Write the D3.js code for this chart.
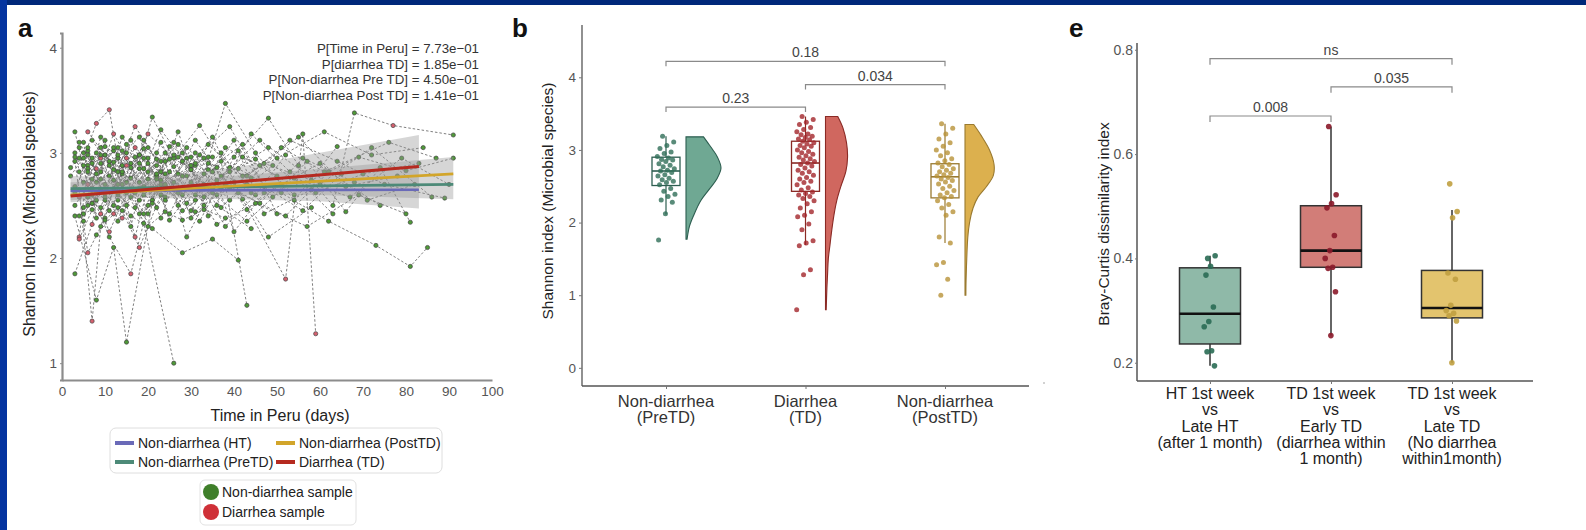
<!DOCTYPE html>
<html>
<head>
<meta charset="utf-8">
<script src="https://cdn.jsdelivr.net/npm/d3@7"></script>
<style>
body { margin: 0; background: #fff; }
svg { display: block; font-family: "Liberation Sans", Arial, sans-serif; }
</style>
</head>
<body>
<div id="chart"></div>
<script>
// ---------- Panel a data: per-subject trajectories [day, shannon, diarrhea?] ----------
var trajectories = [
  [[2,2.78],[6,3.02],[11,2.45],[17,2.96],[24,2.58],[31,3.12],[39,2.66],[47,2.9],[58,2.74],[69,2.96],[80,2.83],[91,2.95]],
  [[3,3.2],[7,2.52,1],[12,2.91],[18,3.15],[25,2.36],[33,2.8],[38,3.47],[45,3.0],[54,2.55],[64,3.06]],
  [[4,2.65],[7,1.4,1],[9,2.3],[14,2.88],[19,2.33],[26,1.0]],
  [[3,2.4],[8,1.6],[12,2.1],[15,1.2],[22,2.75],[29,2.95],[36,2.5],[44,2.28]],
  [[5,2.95],[8,3.28,1],[11,3.41,1],[14,2.7],[20,3.05],[27,2.62],[34,2.84],[42,3.08],[50,2.42]],
  [[4,2.2,1],[6,2.88],[10,3.12],[13,2.55],[18,2.98],[23,2.7],[30,2.45],[37,2.92],[43,1.55]],
  [[3,1.85],[7,2.32,1],[10,2.98],[16,2.64],[21,3.34],[28,2.78],[35,3.15],[42,2.56],[52,1.8,1],[56,3.18],[59,1.28,1]],
  [[6,2.58],[9,3.05],[13,2.82],[17,2.2,1],[22,3.0],[26,2.87],[32,2.35],[40,2.96],[48,3.33],[55,2.88],[63,2.5],[68,3.38],[77,3.26,1],[91,3.17]],
  [[4,3.05],[8,2.72],[12,3.18,1],[16,2.9],[20,2.42],[25,3.06],[33,2.68],[41,3.02],[49,2.58],[57,2.92],[66,2.44],[74,2.86],[81,2.34]],
  [[5,2.48],[9,2.82],[14,3.02],[19,2.6],[24,2.92],[29,2.2],[36,2.74],[46,3.12],[60,2.7],[72,3.05],[86,2.58]],
  [[3,2.92],[6,2.05,1],[10,2.38],[15,3.08],[21,2.55],[27,3.2],[34,2.4],[41,2.85],[51,2.62],[62,2.35],[73,2.12],[81,1.92],[85,2.1]],
  [[7,3.12],[11,2.88],[16,2.3],[20,2.95],[26,2.65],[31,3.0],[37,2.48],[44,2.76],[53,3.12],[64,2.92],[75,2.7],[89,2.57]],
  [[4,2.58,1],[9,2.48],[13,2.95],[18,2.72],[23,3.22],[30,2.84],[38,2.3],[45,2.6],[52,2.98]],
  [[6,2.85],[10,2.62,1],[14,3.15],[19,2.85],[25,2.42],[32,2.98],[39,3.25],[47,2.68],[56,2.45],[65,2.8]],
  [[5,3.1],[8,2.38],[12,2.66],[17,3.05,1],[22,2.48],[28,2.92],[35,2.62],[43,2.35],[54,2.76],[67,2.58],[79,2.95],[90,2.7]],
  [[3,2.68],[7,2.95],[11,2.78],[15,2.5],[20,2.82],[26,3.1],[33,2.5],[40,2.72],[48,2.2],[58,2.48]],
  [[8,2.22],[12,2.42,1],[16,2.58],[21,2.28],[28,2.05],[35,2.18],[41,1.98]],
  [[4,2.82],[8,3.0],[13,2.35],[19,3.12],[24,2.8],[31,2.55],[38,3.05],[46,2.88],[55,3.15],[66,2.68],[78,2.78]],
  [[6,3.2,1],[10,2.98],[15,2.72],[20,3.18,1],[26,2.95],[32,3.26],[39,2.82],[48,3.05]],
  [[5,2.42],[9,2.65],[14,2.45],[18,2.1,1],[23,2.6],[29,2.78],[36,2.32],[45,2.52],[57,2.3],[69,2.6],[80,2.42]],
  [[3,2.5],[7,2.75],[12,3.02],[17,2.62],[22,2.88],[27,2.5],[34,3.08],[42,2.78],[50,2.95],[61,3.2],[72,2.98],[84,3.05]],
  [[9,2.9],[13,2.6],[18,2.42],[24,2.7],[30,2.96],[37,2.66],[44,3.18],[53,2.82],[63,2.42]],
  [[4,2.95],[7,2.6],[11,2.2],[16,1.85,1],[20,2.5],[25,2.82],[31,2.6]],
  [[6,2.7,1],[9,3.15],[14,2.8],[18,2.55],[23,3.1],[29,2.66],[36,2.86],[43,2.46],[51,2.7],[60,2.9],[71,2.55],[82,2.7]],
  [[5,2.35],[8,2.85,1],[13,3.05],[19,2.68],[25,2.94],[30,2.38],[38,2.7],[46,2.52],[56,2.95],[68,2.72]],
  [[3,3.0],[6,2.5],[10,2.7],[15,2.95,1],[20,2.75],[24,2.55],[30,2.72],[37,3.0],[44,2.62]],
  [[7,2.52],[12,2.74],[17,3.25,1],[22,2.94],[28,2.45],[35,2.66],[42,2.96],[50,2.78]],
  [[4,2.18,1],[8,2.55],[11,2.92],[17,2.48],[23,2.82],[28,2.6],[34,2.96],[40,2.25],[47,2.62]],
  [[6,3.05],[10,2.55],[14,2.38,1],[19,2.95],[24,2.65],[31,2.88],[39,2.55],[49,2.88],[59,2.62],[70,2.8],[83,2.9]],
  [[5,2.72],[9,2.95,1],[13,2.62],[18,2.85],[23,2.38],[29,3.05],[35,2.82],[43,2.7]],
  [[8,2.8],[12,3.05],[16,2.76],[21,2.52],[27,2.96],[33,2.7],[40,3.12],[47,2.42],[58,2.65]],
  [[3,2.62],[6,2.98],[10,2.58],[14,2.82],[19,2.42],[24,3.0],[30,2.84],[36,2.6]],
  [[4,3.1],[9,2.75],[15,2.88,1],[21,2.66],[27,2.8],[33,2.95],[41,2.62],[52,2.4],[62,2.82],[74,2.5]],
  [[7,2.66],[11,2.25,1],[15,2.62],[20,2.9],[26,2.72],[31,2.44],[37,2.78],[45,2.94],[54,2.6]],
  [[5,2.88],[8,2.62],[12,2.5],[16,3.12],[22,2.78],[28,3.0],[33,2.58],[39,2.86]],
  [[9,2.42,1],[13,2.7],[18,2.98],[23,2.74],[29,2.52],[34,2.9],[43,2.78],[51,3.05],[61,2.82],[76,3.1],[87,2.95]],
  [[2,2.86],[5,3.0],[7,2.9],[10,3.06],[13,2.98],[16,2.86],[19,3.04],[23,2.92],[27,3.08],[31,2.9]],
  [[3,2.96],[6,2.82],[9,2.98],[12,2.84],[15,3.0],[18,2.9],[22,2.8],[26,2.98],[30,2.88],[35,2.96]],
  [[4,2.4],[7,2.46],[10,2.36],[13,2.48],[16,2.4],[20,2.3],[24,2.44],[28,2.36],[33,2.46],[38,2.38]]
];

var xTicksA = [0, 10, 20, 30, 40, 50, 60, 70, 80, 90, 100];
var yTicksA = [1, 2, 3, 4];

// regression lines
var trendNames = ["Non-diarrhea (HT)", "Non-diarrhea (PreTD)", "Non-diarrhea (PostTD)", "Diarrhea (TD)"];
var trendColors = ["#6a6ab8", "#4d8a78", "#d2a52a", "#b52a20"];
var trendStartDay = [2, 2, 2, 2];
var trendEndDay = [83, 91, 91, 83];
var trendStartVal = [2.64, 2.66, 2.60, 2.59];
var trendEndVal = [2.65, 2.70, 2.80, 2.87];

// confidence ribbons
var bandDaysA = [2, 20, 40, 60, 83];
var bandHiA = [2.78, 2.76, 2.86, 3.0, 3.17];
var bandLoA = [2.53, 2.57, 2.56, 2.54, 2.47];
var bandDaysB = [2, 20, 40, 60, 91];
var bandHiB = [2.72, 2.72, 2.78, 2.85, 2.96];
var bandLoB = [2.55, 2.60, 2.60, 2.60, 2.56];

var pLines = ["P[Time in Peru] = 7.73e\u221201", "P[diarrhea TD] = 1.85e\u221201",
              "P[Non-diarrhea Pre TD] = 4.50e\u221201", "P[Non-diarrhea Post TD] = 1.41e\u221201"];

// ---------- Panel b data ----------
var catLabelsB = [["Non-diarrhea", "(PreTD)"], ["Diarrhea", "(TD)"], ["Non-diarrhea", "(PostTD)"]];
var ptsB = [
  [3.19,3.11,3.06,3.02,2.97,2.95,2.91,2.89,2.87,2.86,2.84,2.81,2.79,2.77,2.74,2.72,2.71,2.69,2.66,2.64,2.61,2.59,2.57,2.55,2.52,2.47,2.43,2.39,2.36,2.31,2.28,2.12,1.76],
  [3.46,3.42,3.38,3.35,3.31,3.28,3.25,3.22,3.21,3.19,3.17,3.15,3.14,3.12,3.1,3.08,3.06,3.05,3.03,3.0,2.98,2.96,2.94,2.92,2.9,2.88,2.86,2.84,2.82,2.8,2.78,2.75,2.72,2.7,2.68,2.65,2.62,2.6,2.57,2.55,2.52,2.48,2.45,2.42,2.4,2.38,2.36,2.33,2.3,2.26,2.2,2.15,2.1,2.08,1.98,1.9,1.75,1.72,1.68,1.35,1.28,0.8],
  [3.36,3.3,3.22,3.15,3.1,3.05,3.0,2.96,2.92,2.88,2.85,2.82,2.8,2.77,2.74,2.72,2.7,2.68,2.66,2.64,2.62,2.6,2.58,2.56,2.53,2.5,2.47,2.44,2.41,2.38,2.36,2.34,2.3,2.25,2.2,2.15,2.1,1.8,1.72,1.45,1.42,1.22,1.0]
];
var boxQ1B = [2.51, 2.43, 2.34];
var boxMedB = [2.71, 2.82, 2.63];
var boxQ3B = [2.90, 3.12, 2.81];
var whiskLoB = [2.11, 1.69, 1.72];
var whiskHiB = [3.19, 3.46, 3.36];
var violinValsB = [
  [3.18,3.1,3.0,2.9,2.75,2.6,2.45,2.3,2.1,1.95,1.77],
  [3.46,3.3,3.1,2.9,2.7,2.5,2.3,2.1,1.9,1.7,1.5,1.3,1.1,0.8],
  [3.35,3.2,3.0,2.8,2.65,2.5,2.35,2.2,2.0,1.8,1.5,1.2,1.0]
];
var violinDensB = [
  [0.5,0.62,0.77,0.9,1.0,0.88,0.65,0.42,0.22,0.1,0.03],
  [0.35,0.5,0.6,0.63,0.58,0.44,0.32,0.24,0.18,0.13,0.08,0.06,0.04,0.02],
  [0.25,0.46,0.7,0.83,0.81,0.62,0.37,0.23,0.13,0.08,0.05,0.03,0.025]
];
var yTicksB = [0, 1, 2, 3, 4];
var bracketPairsB = [[0, 2], [1, 2], [0, 1]];
var bracketYB = [4.22, 3.90, 3.59];
var bracketLabelsB = ["0.18", "0.034", "0.23"];

// ---------- Panel e data ----------
var catLabelsE = [["HT 1st week", "vs", "Late HT", "(after 1 month)"],
                  ["TD 1st week", "vs", "Early TD", "(diarrhea within", "1 month)"],
                  ["TD 1st week", "vs", "Late TD", "(No diarrhea", "within1month)"]];
var ptsE = [
  [0.40, 0.405, 0.385, 0.368, 0.307, 0.279, 0.269, 0.223, 0.221, 0.194],
  [0.653, 0.522, 0.505, 0.497, 0.444, 0.415, 0.40, 0.383, 0.381, 0.336, 0.252],
  [0.543, 0.49, 0.478, 0.372, 0.36, 0.31, 0.30, 0.295, 0.29, 0.28, 0.2]
];
var boxQ1E = [0.236, 0.383, 0.286];
var boxMedE = [0.294, 0.415, 0.305];
var boxQ3E = [0.382, 0.501, 0.377];
var whiskLoE = [0.194, 0.252, 0.2];
var whiskHiE = [0.405, 0.653, 0.493];
var yTicksE = [0.2, 0.4, 0.6, 0.8];
var bracketPairsE = [[0, 2], [1, 2], [0, 1]];
var bracketYE = [0.783, 0.729, 0.673];
var bracketLabelsE = ["ns", "0.035", "0.008"];

// ---------- Setup ----------
var W = 1586, H = 530;
var svg = d3.select("#chart").append("svg").attr("width", W).attr("height", H);
svg.append("rect").attr("width", W).attr("height", H).attr("fill", "#fff");
svg.append("rect").attr("width", W).attr("height", 5).attr("fill", "#00287a");
svg.append("rect").attr("width", 7).attr("height", H).attr("fill", "#0434a0");

function jit(i, w) { return ((i * 0.618034 + 0.31) % 1 - 0.5) * 2 * w; }

function styleAxis(g, col, sw, fs, tc) {
  g.attr("font-family", null).attr("font-size", null);
  g.select(".domain").attr("stroke", col).attr("stroke-width", sw);
  g.selectAll(".tick line").attr("stroke", col);
  g.selectAll(".tick text").attr("fill", tc).attr("font-size", fs);
}

function panelLetter(x, y, t) {
  svg.append("text").attr("x", x).attr("y", y).attr("font-size", 26)
    .attr("font-weight", "bold").attr("fill", "#111").text(t);
}

// ---------- Panel a ----------
var xA = d3.scaleLinear().domain([0, 100]).range([62, 492]);
var yA = d3.scaleLinear().domain([0.84, 4.14]).range([380, 33]);
var gA = svg.append("g");

var trajLine = d3.line().x(function(d) { return xA(d[0]); }).y(function(d) { return yA(d[1]); });
gA.selectAll(".traj").data(trajectories).enter().append("path")
  .attr("d", trajLine).attr("fill", "none")
  .attr("stroke", "#707070").attr("stroke-width", 0.9).attr("stroke-dasharray", "2.5,2");

var allPts = [].concat.apply([], trajectories);
gA.selectAll(".pt").data(allPts).enter().append("circle")
  .attr("cx", function(d) { return xA(d[0]); })
  .attr("cy", function(d) { return yA(d[1]); })
  .attr("r", 2.1)
  .attr("fill", function(d) { return d[2] ? "#d4606e" : "#4f9a38"; })
  .attr("stroke", "#444").attr("stroke-width", 0.7);

function band(days, lo, hi) {
  return d3.area()
    .x(function(d, i) { return xA(days[i]); })
    .y0(function(d, i) { return yA(lo[i]); })
    .y1(function(d, i) { return yA(hi[i]); })(days);
}
gA.append("path").attr("d", band(bandDaysA, bandLoA, bandHiA)).attr("fill", "#999").attr("opacity", 0.4);
gA.append("path").attr("d", band(bandDaysB, bandLoB, bandHiB)).attr("fill", "#999").attr("opacity", 0.4);

trendNames.forEach(function(n, i) {
  gA.append("line")
    .attr("x1", xA(trendStartDay[i])).attr("x2", xA(trendEndDay[i]))
    .attr("y1", yA(trendStartVal[i])).attr("y2", yA(trendEndVal[i]))
    .attr("stroke", trendColors[i]).attr("stroke-width", i === 3 ? 3 : 2.6);
});

var axXA = gA.append("g").attr("transform", "translate(0,380)")
  .call(d3.axisBottom(xA).tickValues(xTicksA).tickSize(0).tickPadding(6));
styleAxis(axXA, "#8c8c8c", 2.2, 13.5, "#555");
var axYA = gA.append("g").attr("transform", "translate(62,0)")
  .call(d3.axisLeft(yA).tickValues(yTicksA).tickFormat(d3.format("d")).tickSizeOuter(0).tickSize(2).tickPadding(3));
styleAxis(axYA, "#8c8c8c", 2.2, 13.5, "#555");

gA.append("text").attr("transform", "translate(35,214) rotate(-90)")
  .attr("text-anchor", "middle").attr("font-size", 16).attr("fill", "#222")
  .text("Shannon Index (Microbial species)");
gA.append("text").attr("x", 280).attr("y", 421).attr("text-anchor", "middle")
  .attr("font-size", 16).attr("fill", "#222").text("Time in Peru (days)");

gA.selectAll(".pline").data(pLines).enter().append("text")
  .attr("x", 479).attr("y", function(d, i) { return 53 + i * 15.5; })
  .attr("text-anchor", "end").attr("font-size", 13.3).attr("fill", "#333")
  .text(function(d) { return d; });

// legend 1: lines
gA.append("rect").attr("x", 110).attr("y", 428).attr("width", 332).attr("height", 45)
  .attr("rx", 6).attr("fill", "none").attr("stroke", "#dedede");
var legOrder = [0, 1, 2, 3];
legOrder.forEach(function(k, j) {
  var col = j < 2 ? 0 : 1, row = j % 2;
  var lx = col === 0 ? 115 : 276, ly = 443 + row * 19;
  gA.append("line").attr("x1", lx).attr("x2", lx + 19).attr("y1", ly).attr("y2", ly)
    .attr("stroke", trendColors[k]).attr("stroke-width", 4);
  gA.append("text").attr("x", lx + 23).attr("y", ly + 5).attr("font-size", 14)
    .attr("fill", "#222").text(trendNames[k]);
});

// legend 2: sample points
var sampleNames = ["Non-diarrhea sample", "Diarrhea sample"];
var sampleColors = ["#3f7f2a", "#cf3038"];
gA.append("rect").attr("x", 200).attr("y", 480).attr("width", 156).attr("height", 45)
  .attr("rx", 5).attr("fill", "none").attr("stroke", "#e2e2e2");
sampleNames.forEach(function(n, i) {
  gA.append("circle").attr("cx", 211).attr("cy", 492 + i * 20).attr("r", 8).attr("fill", sampleColors[i]);
  gA.append("text").attr("x", 222).attr("y", 497 + i * 20).attr("font-size", 14)
    .attr("fill", "#222").text(n);
});

panelLetter(18, 37, "a");

// ---------- Panel b ----------
var xB = d3.scalePoint().domain([0, 1, 2]).range([666, 945]);
var yB = d3.scaleLinear().domain([-0.25, 4.72]).range([386, 25]);
var vw = d3.scaleLinear().domain([0, 1]).range([0, 35]);
var gB = svg.append("g");
var darkB = ["#2d5e50", "#8a2a25", "#9a7a30"];
var fillB = ["#6fa893", "#d0675f", "#dcb04e"];
var ptColB = ["#2f6e58", "#a3262b", "#b89238"];

catLabelsB.forEach(function(c, i) {
  var cx = xB(i);
  // half violin
  var x0 = cx + 20;
  var vals = violinValsB[i], dens = violinDensB[i];
  var edge = d3.line().curve(d3.curveCatmullRom)
    .x(function(d, j) { return x0 + vw(dens[j]); })
    .y(function(d) { return yB(d); })(vals);
  var p = "M" + x0 + "," + yB(vals[0]) + "L" + edge.slice(1) +
          "L" + x0 + "," + yB(vals[vals.length - 1]) + "Z";
  gB.append("path").attr("d", p).attr("fill", fillB[i]).attr("stroke", darkB[i]).attr("stroke-width", 1.1);
  // whiskers
  gB.append("line").attr("x1", cx).attr("x2", cx).attr("y1", yB(whiskHiB[i])).attr("y2", yB(boxQ3B[i]))
    .attr("stroke", darkB[i]).attr("stroke-width", 1.2);
  gB.append("line").attr("x1", cx).attr("x2", cx).attr("y1", yB(boxQ1B[i])).attr("y2", yB(whiskLoB[i]))
    .attr("stroke", darkB[i]).attr("stroke-width", 1.2);
  // box
  gB.append("rect").attr("x", cx - 14).attr("width", 28)
    .attr("y", yB(boxQ3B[i])).attr("height", yB(boxQ1B[i]) - yB(boxQ3B[i]))
    .attr("fill", "none").attr("stroke", darkB[i]).attr("stroke-width", 1.3);
  gB.append("line").attr("x1", cx - 14).attr("x2", cx + 14).attr("y1", yB(boxMedB[i])).attr("y2", yB(boxMedB[i]))
    .attr("stroke", darkB[i]).attr("stroke-width", 1.6);
  // jittered points
  gB.selectAll(".pb" + i).data(ptsB[i]).enter().append("circle")
    .attr("cx", function(d, j) { return cx + jit(j, 9); })
    .attr("cy", function(d) { return yB(d); })
    .attr("r", 2.5).attr("fill", ptColB[i]).attr("opacity", 0.8);
});

// axes b
gB.append("line").attr("x1", 582).attr("x2", 582).attr("y1", yB.range()[1]).attr("y2", yB.range()[0])
  .attr("stroke", "#555").attr("stroke-width", 1.3);
gB.append("line").attr("x1", 582).attr("x2", 1029).attr("y1", yB.range()[0]).attr("y2", yB.range()[0])
  .attr("stroke", "#555").attr("stroke-width", 1.3);
var axYB = gB.append("g").attr("transform", "translate(582,0)")
  .call(d3.axisLeft(yB).tickValues(yTicksB).tickFormat(d3.format("d")).tickSize(3).tickPadding(3));
axYB.select(".domain").remove();
styleAxis(axYB, "#777", 1, 13.5, "#555");
var axXB = gB.append("g").attr("transform", "translate(0,386)")
  .call(d3.axisBottom(xB).tickSize(3).tickFormat(""));
axXB.select(".domain").remove();
styleAxis(axXB, "#777", 1, 13, "#555");
catLabelsB.forEach(function(c, i) {
  c.forEach(function(s, k) {
    gB.append("text").attr("x", xB(i)).attr("y", 407 + k * 16).attr("text-anchor", "middle")
      .attr("font-size", 16.5).attr("fill", "#333").text(s);
  });
});
gB.append("text").attr("transform", "translate(553,201) rotate(-90)")
  .attr("text-anchor", "middle").attr("font-size", 15.5).attr("fill", "#222")
  .text("Shannon index (Microbial species)");

bracketPairsB.forEach(function(pr, i) {
  var y = yB(bracketYB[i]), x1 = xB(pr[0]), x2 = xB(pr[1]);
  gB.append("path").attr("d", "M" + x1 + "," + (y + 5) + "V" + y + "H" + x2 + "V" + (y + 5))
    .attr("fill", "none").attr("stroke", "#8a8a8a").attr("stroke-width", 1.2);
  gB.append("text").attr("x", (x1 + x2) / 2).attr("y", y - 4).attr("text-anchor", "middle")
    .attr("font-size", 14).attr("fill", "#444").text(bracketLabelsB[i]);
});

panelLetter(512, 37, "b");

// ---------- Panel e ----------
var xE = d3.scalePoint().domain([0, 1, 2]).range([1210, 1452]);
var yE = d3.scaleLinear().domain([0.165, 0.813]).range([381, 43]);
var gE = svg.append("g");
var fillE = ["#8fb9a8", "#d27d78", "#e3c46e"];
var ptColE = ["#2a6b54", "#8b1a2a", "#c0a040"];

catLabelsE.forEach(function(c, i) {
  var cx = xE(i);
  gE.append("line").attr("x1", cx).attr("x2", cx).attr("y1", yE(whiskHiE[i])).attr("y2", yE(whiskLoE[i]))
    .attr("stroke", "#333").attr("stroke-width", 1.5);
  gE.append("rect").attr("x", cx - 30.5).attr("width", 61)
    .attr("y", yE(boxQ3E[i])).attr("height", yE(boxQ1E[i]) - yE(boxQ3E[i]))
    .attr("fill", fillE[i]).attr("stroke", "#333").attr("stroke-width", 1.5);
  gE.append("line").attr("x1", cx - 30.5).attr("x2", cx + 30.5).attr("y1", yE(boxMedE[i])).attr("y2", yE(boxMedE[i]))
    .attr("stroke", "#111").attr("stroke-width", 2.6);
  gE.selectAll(".pe" + i).data(ptsE[i]).enter().append("circle")
    .attr("cx", function(d, j) { return cx + jit(j, 6); })
    .attr("cy", function(d) { return yE(d); })
    .attr("r", 2.8).attr("fill", ptColE[i]).attr("opacity", 0.9);
  c.forEach(function(s, k) {
    gE.append("text").attr("x", cx).attr("y", 399 + k * 16.3).attr("text-anchor", "middle")
      .attr("font-size", 16).attr("fill", "#222").text(s);
  });
});

gE.append("line").attr("x1", 1137).attr("x2", 1137).attr("y1", yE.range()[1]).attr("y2", yE.range()[0])
  .attr("stroke", "#555").attr("stroke-width", 1.5);
gE.append("line").attr("x1", 1137).attr("x2", 1533).attr("y1", yE.range()[0]).attr("y2", yE.range()[0])
  .attr("stroke", "#555").attr("stroke-width", 1.5);
var axYE = gE.append("g").attr("transform", "translate(1137,0)")
  .call(d3.axisLeft(yE).tickValues(yTicksE).tickSize(2).tickPadding(2).tickFormat(d3.format(".1f")));
axYE.select(".domain").remove();
styleAxis(axYE, "#777", 1, 14, "#555");
var axXE = gE.append("g").attr("transform", "translate(0,381)")
  .call(d3.axisBottom(xE).tickSize(3).tickFormat(""));
axXE.select(".domain").remove();
styleAxis(axXE, "#777", 1, 13, "#555");

gE.append("text").attr("transform", "translate(1109,224) rotate(-90)")
  .attr("text-anchor", "middle").attr("font-size", 15.5).attr("fill", "#222")
  .text("Bray-Curtis dissimilarity index");

bracketPairsE.forEach(function(pr, i) {
  var y = yE(bracketYE[i]), x1 = xE(pr[0]), x2 = xE(pr[1]);
  gE.append("path").attr("d", "M" + x1 + "," + (y + 6) + "V" + y + "H" + x2 + "V" + (y + 6))
    .attr("fill", "none").attr("stroke", "#8a8a8a").attr("stroke-width", 1.2);
  gE.append("text").attr("x", (x1 + x2) / 2).attr("y", y - 4).attr("text-anchor", "middle")
    .attr("font-size", 14).attr("fill", "#444").text(bracketLabelsE[i]);
});

panelLetter(1069, 37, "e");

// stray speck between panels
svg.append("circle").attr("cx", 1044).attr("cy", 383).attr("r", 0.8).attr("fill", "#999");
</script>
</body>
</html>
